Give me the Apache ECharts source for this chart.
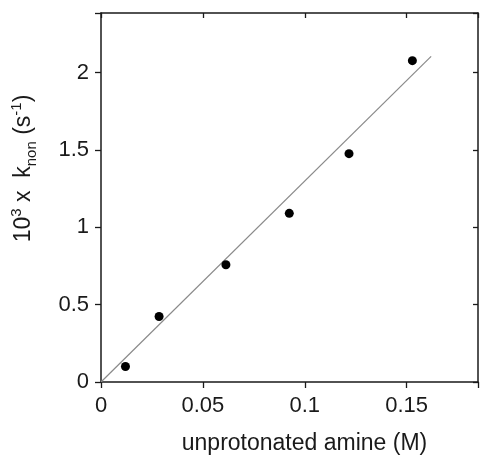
<!DOCTYPE html>
<html>
<head>
<meta charset="utf-8">
<script src="https://cdn.jsdelivr.net/npm/echarts@6/dist/echarts.min.js"></script>
<style>
  html, body { margin: 0; padding: 0; background: #fff; }
  #chart { width: 481px; height: 460px; }
</style>
</head>
<body>
<div id="chart"></div>
<script>
// measured points
let amine = [0.012, 0.0285, 0.0613, 0.0924, 0.1217, 0.1528];
let knon = [0.10, 0.423, 0.758, 1.09, 1.476, 2.077];
// least squares fit line end points
let fitX = [0, 0.162];
let fitY = [0, 2.105];

let xTicks = [0, 0.05, 0.1, 0.15];
let yTicks = [0, 0.5, 1, 1.5, 2];

let FONT = '"Liberation Sans", Arial, sans-serif';
let INK = '#1a1a1a';

let zip = function (a, b) {
  return a.map((v, i) => [v, b[i]]);
};

let fmt = function (v) {
  return String(+v.toFixed(3));
};

let axisBase = function (opts) {
  return Object.assign({
    type: 'value',
    splitLine: {show: false},
    axisLine: {show: true, onZero: false, lineStyle: {color: INK, width: 1.5}},
    axisTick: {show: true, inside: false, length: 6, lineStyle: {color: INK, width: 1.3}},
    axisLabel: {show: false}
  }, opts);
};

let option = {
  animation: false,
  backgroundColor: '#fff',
  grid: {left: 101, right: 1, top: 13, bottom: 75},
  xAxis: [
    axisBase({
      min: 0, max: 0.185, interval: 0.05, position: 'bottom',
      axisLabel: {
        show: true, margin: 13, fontSize: 22, color: INK, fontFamily: FONT,
        formatter: v => (xTicks.indexOf(+v.toFixed(3)) >= 0 ? fmt(v) : '')
      },
      name: 'unprotonated amine (M)', nameLocation: 'middle', nameGap: 50,
      nameTextStyle: {fontSize: 23, color: INK, fontFamily: FONT, padding: [0, 0, 0, 30]}
    }),
    axisBase({
      min: 0, max: 0.185, interval: 0.05, position: 'top',
      axisTick: {show: true, inside: true, length: 5, lineStyle: {color: INK, width: 1.3}}
    })
  ],
  yAxis: [
    axisBase({
      min: 0, max: 2.385, interval: 0.5, position: 'left',
      axisLabel: {
        show: true, margin: 12, fontSize: 22, color: INK, fontFamily: FONT,
        formatter: v => (yTicks.indexOf(+v.toFixed(2)) >= 0 ? fmt(v) : '')
      },
      name: '{n|10}{sup|3}{n| x  k}{sub|non}{n| (s}{sup|-1}{n|)}',
      nameLocation: 'middle', nameRotate: 90, nameGap: 62,
      nameTextStyle: {
        color: INK, fontFamily: FONT, padding: [0, 0, 0, 58],
        rich: {
          n: {fontSize: 23, fontFamily: FONT, color: INK, lineHeight: 30},
          sup: {fontSize: 15, fontFamily: FONT, color: INK, verticalAlign: 'top', lineHeight: 30, padding: [0, 0, 12, 0]},
          sub: {fontSize: 15, fontFamily: FONT, color: INK, verticalAlign: 'bottom', lineHeight: 30, padding: [8, 0, 0, 0]}
        }
      }
    }),
    axisBase({
      min: 0, max: 2.385, interval: 0.5, position: 'right',
      axisTick: {show: true, inside: true, length: 5, lineStyle: {color: INK, width: 1.3}}
    })
  ],
  series: [
    {
      type: 'line',
      data: zip(fitX, fitY),
      showSymbol: false,
      symbol: 'none',
      lineStyle: {color: '#8a8a8a', width: 1.2},
      z: 2
    },
    {
      type: 'scatter',
      data: zip(amine, knon),
      symbol: 'circle',
      symbolSize: 9,
      itemStyle: {color: '#000', opacity: 1},
      z: 3
    }
  ]
};

let chart = echarts.init(document.getElementById('chart'), null, {renderer: 'canvas'});
chart.setOption(option);
</script>
</body>
</html>
